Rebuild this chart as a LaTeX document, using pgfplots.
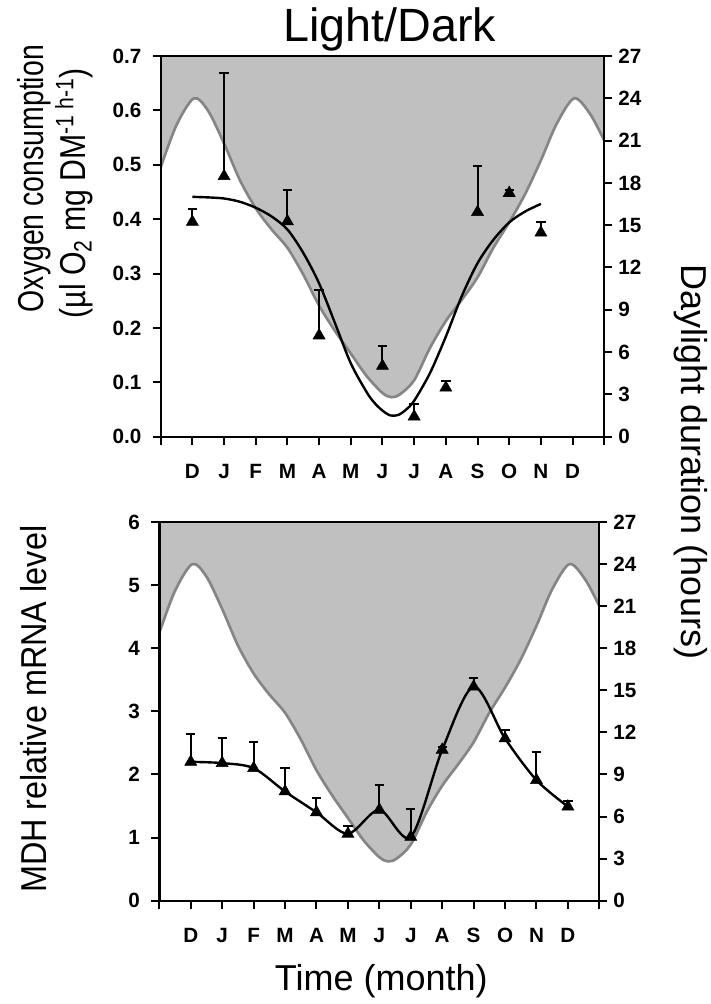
\documentclass[border=0pt]{standalone}
\usepackage{fontspec}
\setmainfont{Liberation Sans}
\usepackage{graphicx}
\usepackage{pgfplots}
\usepackage{pgfplotstable}
\pgfplotsset{compat=1.18}
\usepgfplotslibrary{fillbetween}

\definecolor{nightgray}{HTML}{C0C0C0}
\definecolor{dayline}{HTML}{858585}

% daylight duration (hours), month index 0..14
\pgfplotstableread{
x h
0 19.1
0.5 22.1
1.05 24.0
1.5 23.1
2 20.8
2.5 18.2
3 16.2
3.5 14.7
4 13.4
4.5 11.5
5 9.3
5.5 7.5
6 5.9
6.5 4.3
7 3.1
7.28 2.8
7.55 3.0
8 4.0
8.5 6.3
9 8.2
9.5 9.7
10 11.3
10.5 13.4
11 15.2
11.5 17.2
12 19.6
12.5 22.2
13.05 24.0
13.55 22.9
14 21.0
}\daylight

% oxygen consumption, mean and upper SE
\pgfplotstableread{
x y ey
1 0.395 0.024
2 0.479 0.190
4 0.396 0.058
5 0.186 0.083
7 0.130 0.037
8 0.037 0.023
9 0.090 0.013
10 0.413 0.084
11 0.448 0.006
12 0.375 0.020
}\oxygen

% fitted curve through oxygen data
\pgfplotstableread{
x y
1 0.441
1.5 0.440
2 0.438
2.5 0.432
3 0.421
3.5 0.405
4 0.381
4.5 0.338
5 0.282
5.5 0.209
6 0.135
6.5 0.082
6.75 0.062
7 0.048
7.25 0.039
7.5 0.040
7.75 0.050
8 0.066
8.5 0.117
9 0.184
9.5 0.258
10 0.319
10.5 0.362
11 0.394
11.5 0.414
12 0.428
}\oxyfit

% MDH relative mRNA level
\pgfplotstableread{
x y ey
1 2.20 0.44
2 2.18 0.40
3 2.10 0.42
4 1.73 0.38
5 1.40 0.23
6 1.06 0.12
7 1.44 0.39
8 1.01 0.44
9 2.39 0.05
10 3.39 0.14
11 2.57 0.13
12 1.91 0.44
13 1.49 0.09
}\mdh

\pgfplotsset{
  panel/.style={
    scale only axis, anchor=south west,
    xmin=0, xmax=14,
    axis line style={line width=1.5pt},
    tick style={black, line width=1.5pt},
    major tick length=6pt,
    tick align=outside,
    /pgf/number format/assume math mode=true,
    ticklabel style={font=\fontsize{15.5}{17}\selectfont\bfseries},
  },
  dayaxis/.style={
    panel,
    ymin=0, ymax=27, ytick={0,3,6,9,12,15,18,21,24,27},
    axis x line=none, axis y line*=right,
    yticklabel style={xshift=1pt},
  },
  mainaxis/.style={
    panel,
    xtick={0,...,14},
    xticklabels={,D,J,F,M,A,M,J,J,A,S,O,N,D,},
    xtick pos=bottom, ytick pos=left,
    xticklabel style={yshift=-11pt},
    yticklabel style={xshift=-5pt},
  },
}

\newcommand{\labfont}{\fontsize{27}{32}\selectfont}

\begin{document}
\begin{tikzpicture}

% ---------- top panel ----------
\begin{axis}[dayaxis, at={(120.5pt,-327.5pt)}, width=332.7pt, height=285.5pt]
\addplot[draw=none, name path=day, smooth] table[x=x,y=h]{\daylight};
\addplot[draw=none, name path=roof] coordinates {(0,27) (14,27)};
\addplot[fill=nightgray, draw=none] fill between[of=day and roof];
\addplot[dayline, line width=2pt, smooth] table[x=x,y=h]{\daylight};
\draw[line width=2.3pt] (axis cs:14,21) -- (axis cs:14,27);
\end{axis}

\begin{axis}[mainaxis, at={(120.5pt,-327.5pt)}, width=332.7pt, height=285.5pt,
  ymin=0, ymax=0.7, ytick={0,0.1,0.2,0.3,0.4,0.5,0.6,0.7},
  yticklabels={0.0,0.1,0.2,0.3,0.4,0.5,0.6,0.7}]
\addplot[black, line width=1.8pt, smooth] table[x=x,y=y]{\oxyfit};
\addplot[only marks, mark=triangle*, mark size=5.2pt, mark options={fill=black, line width=0.4pt},
  error bars/.cd, y dir=plus, y explicit,
  error bar style={line width=1.5pt},
  error mark options={rotate=90, mark size=3.5pt, line width=1.5pt}]
  table[x=x,y=y,y error=ey]{\oxygen};
\end{axis}

% ---------- bottom panel ----------
\begin{axis}[dayaxis, at={(119.5pt,-675.5pt)}, width=330pt, height=284pt]
\addplot[draw=none, name path=day2, smooth] table[x=x,y=h]{\daylight};
\addplot[draw=none, name path=roof2] coordinates {(0,27) (14,27)};
\addplot[fill=nightgray, draw=none] fill between[of=day2 and roof2];
\addplot[dayline, line width=2pt, smooth] table[x=x,y=h]{\daylight};
\draw[line width=2.3pt] (axis cs:14,21) -- (axis cs:14,27);
\end{axis}

\begin{axis}[mainaxis, at={(119.5pt,-675.5pt)}, width=330pt, height=284pt,
  ymin=0, ymax=6, ytick={0,1,2,3,4,5,6}]
\draw[line width=2.3pt] (axis cs:0,0) -- (axis cs:0,6);
\addplot[black, line width=1.8pt, smooth, mark=triangle*, mark size=5.2pt,
  mark options={fill=black, line width=0.4pt},
  error bars/.cd, y dir=plus, y explicit,
  error bar style={line width=1.5pt},
  error mark options={rotate=90, mark size=3.5pt, line width=1.5pt}]
  table[x=x,y=y,y error=ey]{\mdh};
\end{axis}

% ---------- titles and shared labels ----------
\node[anchor=base, font=\fontsize{35}{40}\selectfont] at (292.5pt,-31pt) {Light/Dark};
\node[rotate=90, font=\labfont] at (25.5pt,-134pt) {\scalebox{0.79}[1]{Oxygen consumption}};
\node[rotate=90, font=\labfont] at (55.5pt,-145pt) {\scalebox{0.84}[1]{(µl O\textsubscript{2} mg DM\textsuperscript{-1 h-1})}};
\node[rotate=90, font=\labfont] at (25.5pt,-532pt) {\scalebox{0.9}[1]{MDH relative mRNA level}};
\node[rotate=-90, font=\labfont] at (518pt,-346.5pt) {Daylight duration (hours)};
\node[font=\labfont] at (286pt,-736pt) {Time (month)};

\pgfresetboundingbox
\path[use as bounding box] (0,0) rectangle (533.25pt,-753pt);
\end{tikzpicture}
\end{document}
